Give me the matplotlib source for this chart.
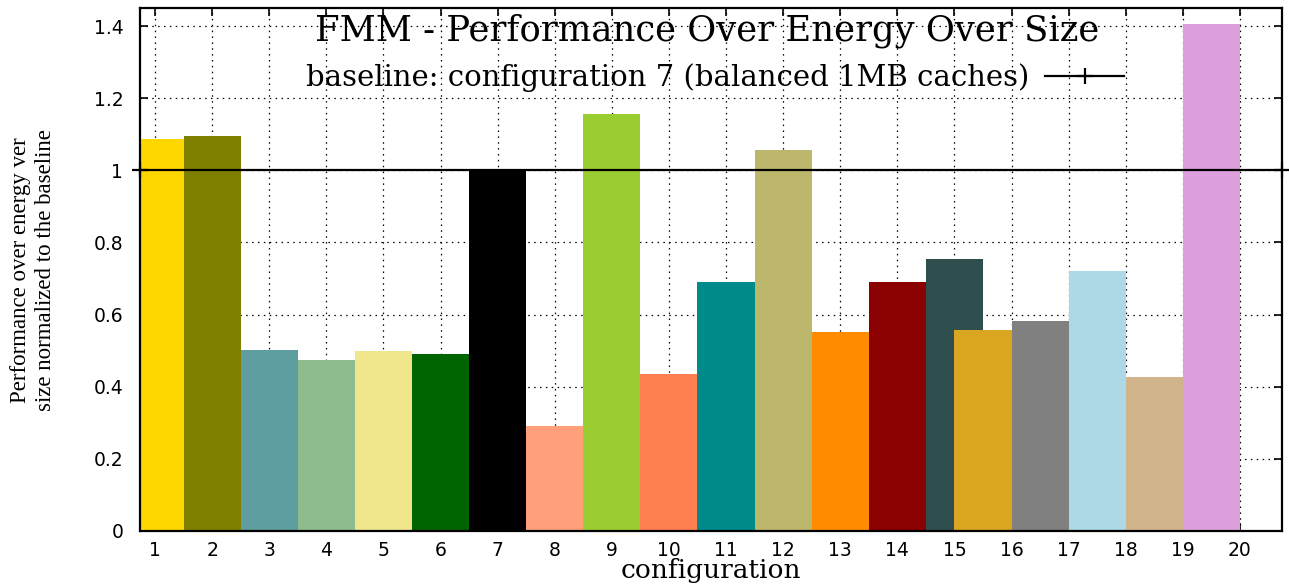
import matplotlib
matplotlib.use("Agg")
import matplotlib.pyplot as plt

# Normalized performance/energy/size per configuration
configs = list(range(1, 21))
values = [1.086, 1.094, 0.503, 0.475, 0.500, 0.492, 1.000, 0.292, 1.156, 0.436,
          0.689, 1.056, 0.553, 0.689, 0.753, 0.558, 0.583, 0.722, 0.428, 1.406]
# Horizontal placement of each box on the configuration axis
positions = [1, 2, 3, 4, 5, 6, 7, 8, 9, 10, 11, 12, 13, 14, 15,
             15.5, 16.5, 17.5, 18.5, 19.5]
colors = ["#FFD700", "#808000", "#5F9EA0", "#8FBC8F", "#F0E68C", "#006400",
          "#000000", "#FFA07A", "#9ACD32", "#FF7F50", "#008B8B", "#BDB76B",
          "#FF8C00", "#8B0000", "#2F4F4F", "#DAA520", "#808080", "#ADD8E6",
          "#D2B48C", "#DDA0DD"]
baseline_value = 1.0
yticks = [0, 0.2, 0.4, 0.6, 0.8, 1.0, 1.2, 1.4]
ytick_labels = ["0", "0.2", "0.4", "0.6", "0.8", "1", "1.2", "1.4"]

W, H = 1289, 587
fig = plt.figure(figsize=(W / 100, H / 100), dpi=100)
L, R, T, B = 140, 1282, 8, 531
ax = fig.add_axes([L / W, 1 - B / H, (R - L) / W, (B - T) / H])

xlo, xhi = 0.737, 20.737
ax.set_xlim(xlo, xhi)
ax.set_ylim(0, 1.45)

for x, v, c in zip(positions, values, colors):
    ax.bar(x, v, width=1.0, color=c, linewidth=0, zorder=2)

ax.plot([xlo, xhi], [baseline_value, baseline_value], color="black", lw=1.6,
        marker="+", markersize=12, markeredgewidth=1.6, clip_on=False, zorder=4,
        label="baseline: configuration 7 (balanced 1MB caches)")

ax.set_xticks(configs)
ax.set_xticklabels([str(c) for c in configs])
ax.set_yticks(yticks)
ax.set_yticklabels(ytick_labels)
ax.tick_params(axis="both", direction="in", length=6, width=1.2,
               top=True, right=True, labelsize=13.5, colors="black")
ax.tick_params(axis="x", pad=7)
ax.tick_params(axis="y", pad=12)
for lab in ax.get_xticklabels() + ax.get_yticklabels():
    lab.set_family("DejaVu Sans")

ax.grid(True, linestyle=(0, (1.2, 3.5)), color="black", linewidth=0.9, zorder=1)
ax.set_axisbelow(True)
for sp in ax.spines.values():
    sp.set_linewidth(1.6)
    sp.set_zorder(5)

ax.set_xlabel("configuration", family="DejaVu Serif", fontsize=19, labelpad=-1)
fig.text(33 / W, 1 - 270 / H,
         "Performance over energy ver\nsize normalized to the baseline",
         rotation=90, ha="center", va="center", family="Liberation Serif",
         fontsize=16.5, linespacing=1.3)

fig.text(707 / W, 1 - 40 / H, "FMM - Performance Over Energy Over Size",
         ha="center", va="baseline", family="DejaVu Serif", fontsize=25.5, zorder=6)

leg = ax.legend(loc="center right", bbox_to_anchor=((1124 - L) / (R - L), (B - 78) / (B - T)),
                frameon=False, markerfirst=False, numpoints=1, borderpad=0,
                borderaxespad=0, handlelength=2.7, handletextpad=0.55,
                prop={"family": "DejaVu Serif", "size": 21})

fig.savefig("out.png", dpi=100, facecolor="white")
